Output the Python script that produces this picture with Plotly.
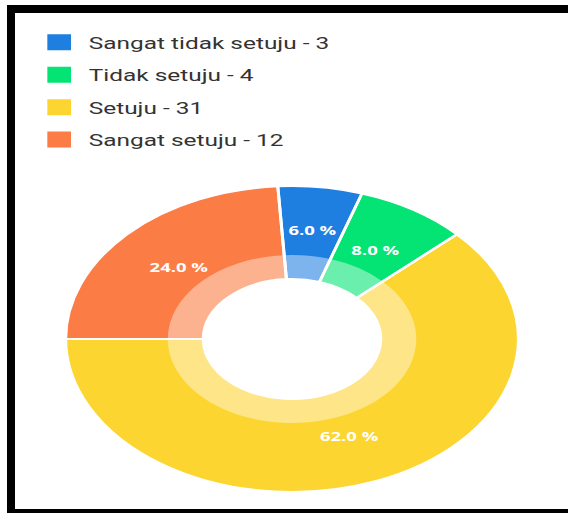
import plotly.graph_objects as go

categories = ["Sangat tidak setuju", "Tidak setuju", "Setuju", "Sangat setuju"]
counts = [3, 4, 31, 12]
colors = ["#1E7FE0", "#03E474", "#FCD531", "#FB7C45"]
light_colors = ["#7EB4EE", "#6AF0AC", "#FDE588", "#FCB28F"]

total = sum(counts)
legend_labels = [f"{c} - {v}" for c, v in zip(categories, counts)]
pct_text = [f"{v / total * 100:.1f} %" for v in counts]

PAGE_W, H = 568, 513
W = 384
SX = PAGE_W / W      # horizontal stretch of the displayed page
cx, cy = 292 / SX, 339
r_out, r_mid, r_in = 153, 84, 60
r_lab, r_lab_in = 130, 80   # ring used only to place the percentage labels


def dom(r):
    return dict(x=[(cx - r) / W, (cx + r) / W],
                y=[1 - (cy + r) / H, 1 - (cy - r) / H])


common = dict(labels=legend_labels, values=counts, sort=False,
              direction="clockwise", rotation=-3.6, showlegend=False)

fig = go.Figure()
# light full ring (inner band colour)
fig.add_trace(go.Pie(
    **common, hole=r_in / r_out,
    marker=dict(colors=light_colors, line=dict(width=0)),
    textinfo="none", hoverinfo="skip", domain=dom(r_out),
))
# strong outer band
fig.add_trace(go.Pie(
    **common, hole=r_mid / r_out,
    marker=dict(colors=colors, line=dict(width=0)),
    textinfo="none", hoverinfo="label+value+percent", domain=dom(r_out),
))
# white separators
fig.add_trace(go.Pie(
    **common, hole=r_in / r_out,
    marker=dict(colors=["rgba(0,0,0,0)"] * len(counts),
                line=dict(color="white", width=2)),
    textinfo="none", hoverinfo="skip", domain=dom(r_out),
))
# percentage labels
fig.add_trace(go.Pie(
    **common, hole=r_lab_in / r_lab,
    marker=dict(colors=["rgba(0,0,0,0)"] * len(counts), line=dict(width=0)),
    text=pct_text, textinfo="text", textposition="inside",
    insidetextorientation="horizontal",
    textfont=dict(color="white", size=12.5, family="Open Sans", weight="bold"),
    hoverinfo="skip", domain=dom(r_lab),
))
# legend entries
for lab, col in zip(legend_labels, colors):
    fig.add_trace(go.Scatter(
        x=[None], y=[None], mode="markers", name=lab, legendgroup=lab,
        marker=dict(symbol="square", size=16, color=col), showlegend=True,
        hoverinfo="skip",
    ))

black = "#000000"
fig.update_layout(
    width=W, height=H,
    margin=dict(l=0, r=0, t=0, b=0),
    paper_bgcolor="white", plot_bgcolor="white",
    xaxis=dict(visible=False), yaxis=dict(visible=False),
    showlegend=True,
    legend=dict(
        x=20 / W, y=1 - 25 / H, xanchor="left", yanchor="top",
        font=dict(family="Roboto", size=16.5, color="#333333"),
        bgcolor="rgba(0,0,0,0)", traceorder="grouped", tracegroupgap=8,
    ),
    shapes=[
        dict(type="rect", xref="paper", yref="paper", layer="above",
             x0=7 / PAGE_W, x1=1, y0=1 - 13 / H, y1=1 - 5 / H,
             fillcolor=black, line=dict(width=0)),
        dict(type="rect", xref="paper", yref="paper", layer="above",
             x0=7 / PAGE_W, x1=15 / PAGE_W, y0=0, y1=1 - 5 / H,
             fillcolor=black, line=dict(width=0)),
        dict(type="rect", xref="paper", yref="paper", layer="above",
             x0=7 / PAGE_W, x1=1, y0=0, y1=4 / H,
             fillcolor=black, line=dict(width=0)),
    ],
)

post = (
    "document.documentElement.style.background='white';"
    "document.documentElement.style.overflow='hidden';"
    "document.body.style.background='white';"
    "document.body.style.margin='0';"
    "document.body.style.overflow='hidden';"
    "var gd=document.getElementById('{plot_id}');"
    f"gd.style.transformOrigin='0 0';gd.style.transform='scaleX({SX})';"
)
fig.write_html("out.html", post_script=post,
               config={"displayModeBar": False})
